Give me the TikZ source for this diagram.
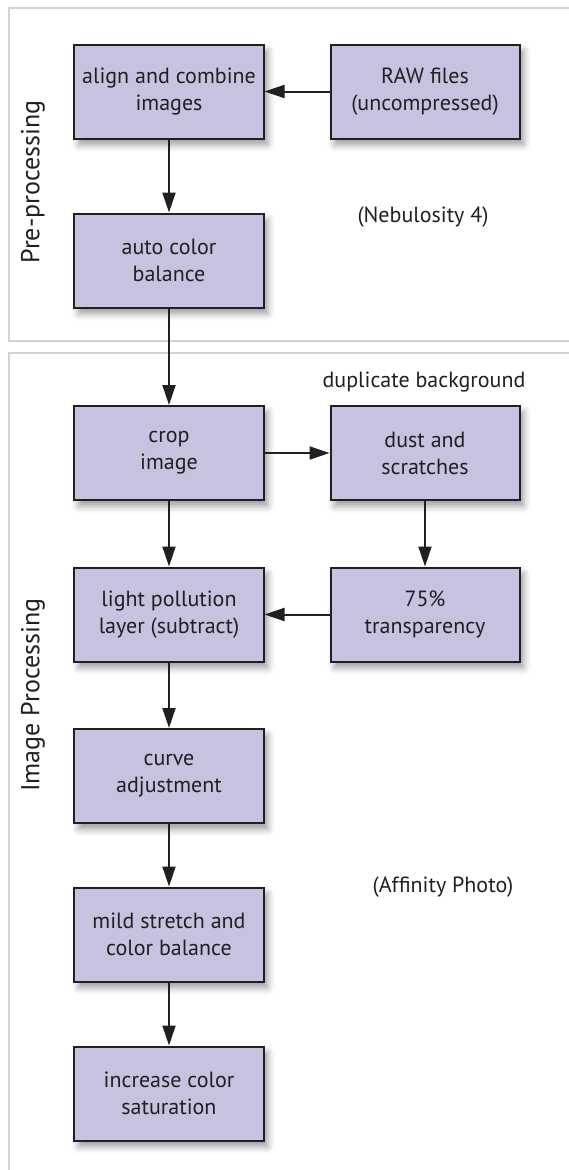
\documentclass[tikz,border=0pt]{standalone}
\usepackage{fontspec}
\setmainfont{PT Sans}
\usepackage{tikz}
\usetikzlibrary{arrows.meta,shadows.blur}
\definecolor{wflav}{HTML}{C5C3E0}
\definecolor{wfink}{HTML}{231F20}
\definecolor{wfgray}{HTML}{D4D4D4}
\tikzset{
  stepbox/.style={draw=wfink, line width=2bp, fill=wflav, minimum width=189bp, minimum height=94bp, inner sep=2bp, align=center, font=\fontsize{22bp}{27bp}\selectfont, text=wfink,
    blur shadow={shadow xshift=4bp, shadow yshift=-6bp, shadow blur radius=7bp, shadow opacity=40}},
  flow/.style={draw=wfink, line width=2bp, -{Triangle[length=20bp,width=13bp]}},
  frame/.style={draw=wfgray, line width=2bp},
  note/.style={font=\fontsize{22bp}{27bp}\selectfont, text=wfink},
  side/.style={rotate=90, font=\fontsize{26bp}{30bp}\selectfont, text=wfink}
}
\begin{document}
\begin{tikzpicture}[x=1bp, y=-1bp]
  \useasboundingbox (0,0) rectangle (569,1170);
  \draw[frame] (569,8) -- (9,8) -- (9,341) -- (569,341);
  \draw[frame] (569,353) -- (9,353) -- (9,1170);
  \node[side] (pre) at (33,182) {Pre-processing};
  \node[side] (proc) at (33,695) {Image Processing};
  \node[stepbox] (align) at (169,91.5) {align and combine\\images};
  \node[stepbox] (raw) at (425,91.5) {RAW files\\(uncompressed)};
  \node[stepbox] (auto) at (169,260.5) {auto color\\balance};
  \node[note] (nebu) at (423,217) {(Nebulosity 4)};
  \node[note] (dup) at (424,382) {duplicate background};
  \node[stepbox] (crop) at (169,453) {crop\\image};
  \node[stepbox] (dust) at (425,453) {dust and\\scratches};
  \node[stepbox] (light) at (169,614.5) {light pollution\\layer (subtract)};
  \node[stepbox] (trans) at (425,614.5) {75\%\\transparency};
  \node[stepbox] (curve) at (169,776) {curve\\adjustment};
  \node[stepbox] (mild) at (169,934.5) {mild stretch and\\color balance};
  \node[stepbox] (incr) at (169,1093.5) {increase color\\saturation};
  \node[note] (affin) at (443,887) {(Affinity Photo)};
  \draw[flow] (raw) -- (align);
  \draw[flow] (align) -- (auto);
  \draw[flow] (auto) -- (crop);
  \draw[flow] (crop) -- (dust);
  \draw[flow] (dust) -- (trans);
  \draw[flow] (trans) -- (light);
  \draw[flow] (crop) -- (light);
  \draw[flow] (light) -- (curve);
  \draw[flow] (curve) -- (mild);
  \draw[flow] (mild) -- (incr);
\end{tikzpicture}
\end{document}
